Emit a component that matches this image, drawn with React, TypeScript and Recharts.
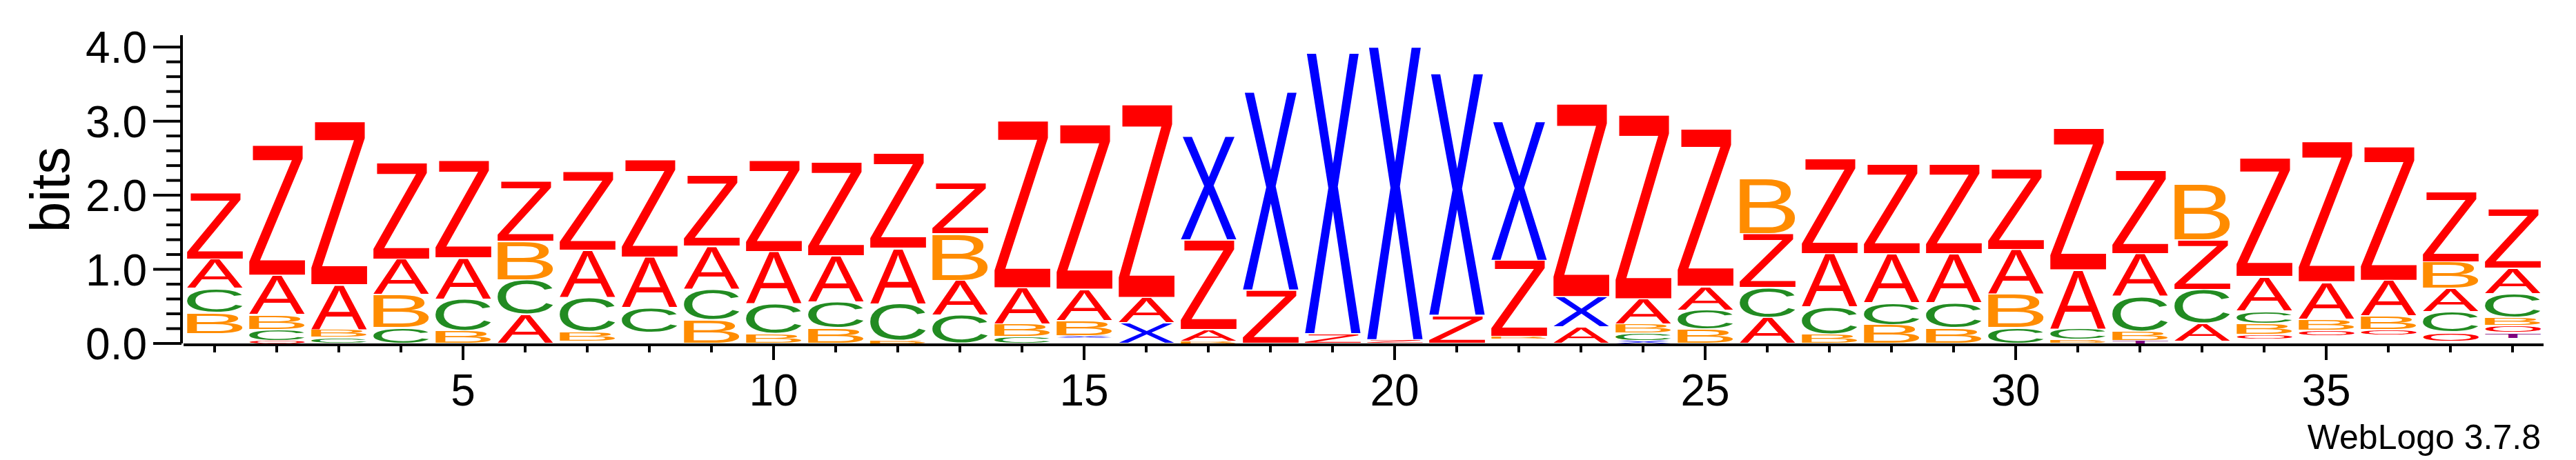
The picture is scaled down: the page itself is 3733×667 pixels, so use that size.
import { BarChart, Bar, XAxis, YAxis, Customized } from "recharts";

// sequence positions 1..38
const positions = [
  1, 2, 3, 4, 5, 6, 7, 8, 9, 10, 11, 12, 13, 14, 15, 16, 17, 18, 19,
  20, 21, 22, 23, 24, 25, 26, 27, 28, 29, 30, 31, 32, 33, 34, 35, 36, 37, 38,
];

// bits per letter at each position
const A = [0.40, 0.53, 0.60, 0.48, 0.55, 0.39, 0.64, 0.68, 0.58, 0.71, 0.62, 0.75, 0.47, 0.49, 0.42, 0.34, 0.16, 0, 0, 0, 0, 0, 0.22, 0.34, 0.32, 0.35, 0.72, 0.66, 0.66, 0.60, 0.79, 0.58, 0.24, 0.46, 0.50, 0.48, 0.31, 0.34];
const B = [0.28, 0.20, 0.11, 0.45, 0.17, 0.52, 0.13, 0, 0.32, 0.13, 0.21, 0.04, 0.63, 0.17, 0.21, 0, 0.03, 0, 0, 0, 0, 0.03, 0, 0.12, 0.19, 0.75, 0.13, 0.25, 0.21, 0.46, 0.05, 0.12, 0.76, 0.15, 0.15, 0.18, 0.36, 0.11];
const C = [0.33, 0.15, 0.08, 0.21, 0.43, 0.47, 0.46, 0.34, 0.41, 0.40, 0.35, 0.49, 0.38, 0.09, 0, 0, 0, 0, 0, 0, 0, 0, 0, 0.10, 0.26, 0.40, 0.36, 0.30, 0.34, 0.21, 0.15, 0.47, 0.46, 0.17, 0, 0, 0.28, 0.32];
const X = [0, 0, 0, 0, 0, 0, 0, 0, 0, 0, 0, 0, 0, 0, 0.03, 0.28, 1.40, 2.68, 3.80, 3.96, 3.27, 1.88, 0.41, 0.04, 0, 0, 0, 0, 0, 0, 0, 0, 0, 0, 0, 0, 0, 0];
const Z = [0.90, 1.76, 2.21, 1.31, 1.32, 0.82, 1.07, 1.32, 0.96, 1.24, 1.27, 1.28, 0.68, 2.26, 2.23, 2.61, 1.21, 0.72, 0.13, 0.05, 0.38, 1.03, 2.61, 2.49, 2.13, 0.73, 1.28, 1.21, 1.21, 1.09, 1.92, 1.13, 0.67, 1.61, 1.90, 1.81, 0.95, 0.81];
const O = [0, 0.04, 0, 0, 0, 0, 0, 0, 0, 0, 0, 0, 0, 0, 0, 0, 0, 0, 0, 0, 0, 0, 0, 0, 0, 0, 0, 0, 0, 0, 0, 0, 0, 0.06, 0.08, 0.08, 0.12, 0.09];
const T = [0, 0, 0, 0, 0, 0, 0, 0, 0, 0, 0, 0, 0, 0, 0, 0, 0, 0, 0, 0, 0, 0, 0, 0, 0, 0, 0, 0, 0, 0, 0, 0.04, 0, 0, 0, 0, 0, 0.08];
// empty space at the bottom of some stacks
const gap = [0.13, 0, 0, 0, 0, 0, 0.03, 0.14, 0, 0, 0, 0, 0, 0, 0.07, 0, 0, 0, 0, 0, 0, 0.06, 0, 0, 0, 0, 0, 0, 0, 0, 0, 0, 0.03, 0.06, 0.10, 0.11, 0.03, 0.07];

const Y_TICKS = [0, 0.2, 0.4, 0.6, 0.8, 1, 1.2, 1.4, 1.6, 1.8, 2, 2.2, 2.4, 2.6, 2.8, 3, 3.2, 3.4, 3.6, 3.8, 4];

const COLORS: Record<string, string> = {
  A: "#ff0000",
  Z: "#ff0000",
  O: "#ff0000",
  B: "#ff8c00",
  C: "#228b22",
  X: "#0000ff",
  T: "#800080",
};

const FONT = '"Liberation Sans", Arial, Helvetica, sans-serif';
const letters: Record<string, number[]> = { A, B, C, X, Z, O, T };
const SLOTS = 7;

// smallest letter at the bottom, gap always first
const data = positions.map((pos, i) => {
  const stack = Object.keys(letters)
    .map((l) => [l, letters[l][i]] as [string, number])
    .filter((e) => e[1] > 0)
    .sort((a, b) => a[1] - b[1]);
  const all = gap[i] > 0 ? [["-", gap[i]] as [string, number], ...stack] : stack;
  const row: any = { pos };
  for (let s = 0; s < SLOTS; s++) {
    row[`v${s}`] = all[s] ? all[s][1] : 0;
    row[`l${s}`] = all[s] ? all[s][0] : "";
  }
  return row;
});

const glyphCache: Record<string, any> = {};
function glyphBox(ch: string) {
  if (glyphCache[ch]) return glyphCache[ch];
  const ctx = document.createElement("canvas").getContext("2d")!;
  ctx.font = `100px ${FONT}`;
  const m = ctx.measureText(ch);
  const box = {
    left: m.actualBoundingBoxLeft,
    right: m.actualBoundingBoxRight,
    ascent: m.actualBoundingBoxAscent,
    descent: m.actualBoundingBoxDescent,
  };
  glyphCache[ch] = box;
  return box;
}

function Letter(props: any) {
  const { x, y, width, height, letter } = props;
  if (!letter || letter === "-" || !(height > 0)) return null;
  const pad = Math.min(1, height * 0.1);
  const top = y + pad;
  const h = height - 2 * pad;
  const g = glyphBox(letter);
  const sx = width / (g.left + g.right);
  const sy = h / (g.ascent + g.descent);
  return (
    <text
      transform={`translate(${x + g.left * sx},${top + g.ascent * sy}) scale(${sx},${sy})`}
      fontSize={100}
      fontFamily={FONT}
      fill={COLORS[letter]}
    >
      {letter}
    </text>
  );
}

function YTick(props: any) {
  const { x, y, payload } = props;
  const v = payload.value;
  const major = Math.abs(v - Math.round(v)) < 1e-6;
  const ax = x - 3;
  return (
    <g>
      <line x1={ax - (major ? 41 : 22)} x2={ax} y1={y} y2={y} stroke="#000" strokeWidth={4} />
      {major && (
        <text x={ax - 50} y={y + 23} textAnchor="end" fontSize={64} fontFamily={FONT} fill="#000">
          {v.toFixed(1)}
        </text>
      )}
    </g>
  );
}

function XTick(props: any) {
  const { x, y, payload } = props;
  const v = Number(payload.value);
  const major = v % 5 === 0;
  return (
    <g>
      <line x1={x} x2={x} y1={y + 2} y2={y + (major ? 24 : 13)} stroke="#000" strokeWidth={4} />
      {major && (
        <text x={x} y={y + 90} textAnchor="middle" fontSize={64} fontFamily={FONT} fill="#000">
          {v}
        </text>
      )}
    </g>
  );
}

function Notes() {
  return (
    <g fontFamily={FONT} fill="#000">
      <text transform="translate(92,267) rotate(-90)" textAnchor="middle" fontSize={80}>
        bits
      </text>
      <text x={3674} y={643} textAnchor="end" fontSize={50}>
        WebLogo 3.7.8
      </text>
    </g>
  );
}

export default function App() {
  return (
    <div style={{ width: 3725, height: 659 }}>
      <BarChart
        width={3725}
        height={659}
        data={data}
        margin={{ top: 43, right: 47, bottom: 69, left: 158 }}
        barSize={81}
      >
        <XAxis
          dataKey="pos"
          height={100}
          interval={0}
          tickSize={0}
          tickMargin={0}
          tickLine={false}
          axisLine={{ stroke: "#000", strokeWidth: 4, transform: "translate(0,2)" }}
          tick={<XTick />}
        />
        <YAxis
          type="number"
          width={100}
          domain={[0, 4.16]}
          ticks={Y_TICKS}
          interval={0}
          tickSize={0}
          tickMargin={0}
          tickLine={false}
          axisLine={{ stroke: "#000", strokeWidth: 4, transform: "translate(-3,0)" }}
          tick={<YTick />}
        />
        {Array.from({ length: SLOTS }, (_, s) => (
          <Bar
            key={s}
            dataKey={`v${s}`}
            stackId="logo"
            isAnimationActive={false}
            shape={(p: any) => <Letter {...p} letter={p.payload[`l${s}`]} />}
          />
        ))}
        <Customized component={Notes} />
      </BarChart>
    </div>
  );
}
